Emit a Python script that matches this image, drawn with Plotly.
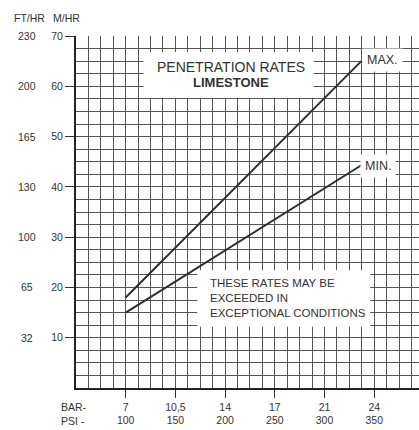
import plotly.graph_objects as go

# ---- data ----
psi_max = [100, 337]
mhr_max = [18.0, 65.0]
psi_min = [100, 337]
mhr_min = [15.0, 44.3]

psi_ticks = [100, 150, 200, 250, 300, 350]
bar_labels = ["7", "10,5", "14", "17", "21", "24"]
psi_labels = ["100", "150", "200", "250", "300", "350"]

mhr_ticks = [10, 20, 30, 40, 50, 60, 70]
fthr_labels = ["32", "65", "100", "130", "165", "200", "230"]

INK = "#333333"
GRID = "#555555"
FONT = "Liberation Sans, Arial, sans-serif"

fig = go.Figure()
fig.add_trace(go.Scatter(x=psi_max, y=mhr_max, mode="lines",
                         line=dict(color="#2e2e2e", width=2), hoverinfo="skip"))
fig.add_trace(go.Scatter(x=psi_min, y=mhr_min, mode="lines",
                         line=dict(color="#2e2e2e", width=2), hoverinfo="skip"))

ticktext = [f"{b}<br>{p}" for b, p in zip(bar_labels, psi_labels)]

fig.update_layout(
    width=419, height=430,
    margin=dict(l=76, r=0, t=36, b=42),
    paper_bgcolor="white", plot_bgcolor="white",
    showlegend=False,
    font=dict(family=FONT, color=INK, size=10.5),
    xaxis=dict(range=[50, 395], tickvals=psi_ticks, ticktext=ticktext,
               ticks="outside", ticklen=8, tickcolor=INK, tickwidth=1,
               showgrid=True, gridcolor=GRID, gridwidth=1,
               minor=dict(dtick=12.5, tick0=50, showgrid=True, gridcolor=GRID, gridwidth=1),
               showline=True, linecolor="#222222", linewidth=2,
               zeroline=False, fixedrange=True,
               tickfont=dict(size=10.5, color=INK)),
    yaxis=dict(range=[0, 70], tickvals=mhr_ticks,
               ticks="outside", ticklen=9, tickcolor=INK, tickwidth=1,
               showgrid=True, gridcolor=GRID, gridwidth=1,
               minor=dict(dtick=2.5, tick0=0, showgrid=True, gridcolor=GRID, gridwidth=1),
               showline=True, linecolor="#222222", linewidth=2,
               zeroline=False, fixedrange=True,
               tickfont=dict(size=10.5, color=INK)),
)

# second (FT/HR) label column
for v, lab in zip(mhr_ticks, fthr_labels):
    fig.add_annotation(x=0, xref="paper", y=v, yref="y", text=lab, showarrow=False,
                       xanchor="center", xshift=-49, font=dict(size=10.5, color=INK))

# column headers
fig.add_annotation(x=0, xref="paper", y=1, yref="paper", text="FT/HR", showarrow=False,
                   xanchor="center", xshift=-47, yshift=26, font=dict(size=10.5, color=INK))
fig.add_annotation(x=0, xref="paper", y=1, yref="paper", text="M/HR", showarrow=False,
                   xanchor="center", xshift=-10, yshift=26, font=dict(size=10.5, color=INK))

# axis row labels
fig.add_annotation(x=0, xref="paper", y=0, yref="paper", text="BAR-<br>PSI -", showarrow=False,
                   xanchor="left", yanchor="top", xshift=-17, yshift=-11, align="left",
                   font=dict(size=10.5, color=INK))

# white boxes over the grid
fig.add_shape(type="rect", x0=118, x1=289, y0=57.7, y1=66.8, xref="x", yref="y",
              fillcolor="white", line=dict(width=0), layer="above")
fig.add_shape(type="rect", x0=172, x1=346, y0=12.2, y1=23.4, xref="x", yref="y",
              fillcolor="white", line=dict(width=0), layer="above")

fig.add_annotation(x=206, y=63.8, text="PENETRATION RATES", showarrow=False,
                   font=dict(size=14, color=INK))
fig.add_annotation(x=206, y=60.7, text="<b>LIMESTONE</b>", showarrow=False,
                   font=dict(size=13, color=INK))

fig.add_annotation(x=183, y=17.9, text="THESE RATES MAY BE<br>EXCEEDED IN<br>EXCEPTIONAL CONDITIONS",
                   showarrow=False, xanchor="left", align="left",
                   font=dict(size=11.5, color=INK))

fig.add_annotation(x=358, y=65.2, text="MAX.", showarrow=False, bgcolor="white",
                   borderpad=4, font=dict(size=12.5, color=INK))
fig.add_annotation(x=354, y=44.2, text="MIN.", showarrow=False, bgcolor="white",
                   borderpad=4, font=dict(size=12.5, color=INK))

fig.write_html("out.html", config={"displayModeBar": False, "staticPlot": True},
               post_script="document.body.style.margin='0';document.body.style.overflow='hidden';")
